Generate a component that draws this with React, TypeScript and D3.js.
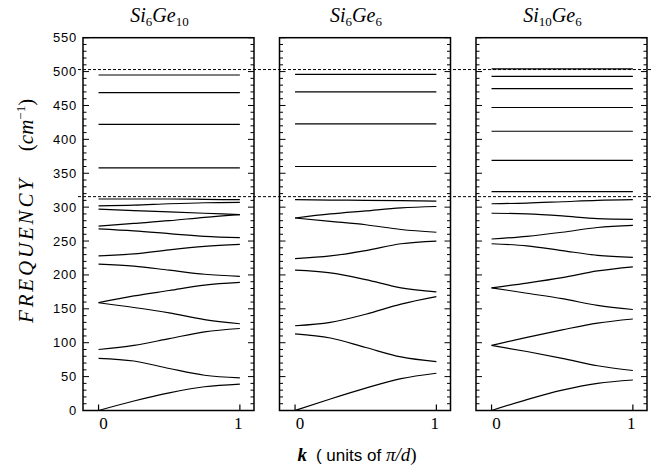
import React from "react";
import * as d3 from "d3";

// ---- data ----
const kPoints = [0, 0.25, 0.5, 0.75, 1];

const panelTitles = [
  { base1: "Si", sub1: "6", base2: "Ge", sub2: "10" },
  { base1: "Si", sub1: "6", base2: "Ge", sub2: "6" },
  { base1: "Si", sub1: "10", base2: "Ge", sub2: "6" },
];

const si6ge10Bands = [
  [0, 14, 26, 35, 39],
  [77, 73, 62, 52, 48],
  [90, 96, 106, 116, 121],
  [159, 152, 144, 134, 128],
  [159, 169, 177, 185, 189],
  [216, 213, 207, 201, 198],
  [228, 231, 237, 242, 245],
  [268, 265, 261, 257, 255],
  [272, 276, 280, 285, 289],
  [297, 295, 293, 291, 289],
  [302, 303, 305, 306.5, 307],
  [312, 312, 312, 311.5, 311],
  [358, 358, 358, 358, 358],
  [422, 422, 422, 422, 422],
  [469, 469, 469, 469, 469],
  [495, 495, 495, 495, 495],
];

const si6ge6Bands = [
  [0, 17, 33, 47, 55],
  [113, 107, 93, 79, 72],
  [125, 130, 142, 157, 168],
  [207, 203, 193, 181, 175],
  [224, 228, 236, 246, 250],
  [284, 279, 274, 267, 263],
  [284, 290, 294.5, 299, 301],
  [311, 310.5, 310, 309.5, 309],
  [360, 360, 360, 360, 360],
  [423, 423, 423, 423, 423],
  [470, 470, 470, 470, 470],
  [496, 496, 496, 496, 496],
];

const si10ge6Bands = [
  [0, 16, 30, 40, 45],
  [96, 87, 77, 66, 59],
  [96, 108, 119, 129, 135],
  [181, 173, 165, 155, 149],
  [181, 188, 196, 206, 212],
  [246, 243, 236, 229, 226],
  [253, 257, 263, 270, 273],
  [291, 290, 287, 283, 282],
  [305, 306, 308, 310, 311],
  [323, 323, 323, 323, 323],
  [369, 369, 369, 369, 369],
  [412, 412, 412, 412, 412],
  [447, 447, 447, 447, 447],
  [475, 475, 475, 475, 475],
  [493, 493, 493, 493, 493],
  [504, 504, 504, 504, 504],
];

const panelBands = [si6ge10Bands, si6ge6Bands, si10ge6Bands];

const dashedLevels = [503, 315.5];

const yTickLabels = [0, 50, 100, 150, 200, 250, 300, 350, 400, 450, 500, 550];
const yMinorTicks = d3.range(0, 551, 10);
const xTickLabels = ["0", "1"];
const xTickValues = [0, 1];

// ---- layout ----
const W = 652;
const H = 473;
const panelLefts = [83, 279.5, 476];
const panelWidth = 171;
const yTop = 37.7;
const yBottom = 410.5;

const y = d3.scaleLinear().domain([0, 550]).range([yBottom, yTop]);

const serif = "'Liberation Serif', 'DejaVu Serif', serif";
const sans = "'Liberation Sans', Arial, sans-serif";

export default function App() {
  const panels = panelLefts.map((left, pi) => {
    const x = d3.scaleLinear().domain([-0.11, 1.1]).range([left, left + panelWidth]);
    const line = d3
      .line<number>()
      .x((_, i) => x(kPoints[i]))
      .y((v) => y(v))
      .curve(d3.curveMonotoneX);
    const t = panelTitles[pi];
    return (
      <g key={pi}>
        <rect
          x={left}
          y={yTop}
          width={panelWidth}
          height={yBottom - yTop}
          fill="none"
          stroke="#000"
          strokeWidth={1.5}
        />
        {yMinorTicks.map((v) => {
          const len = v % 50 === 0 ? 6 : 3.5;
          return (
            <g key={v}>
              <line x1={left} x2={left + len} y1={y(v)} y2={y(v)} stroke="#000" strokeWidth={1} />
              <line
                x1={left + panelWidth}
                x2={left + panelWidth - len}
                y1={y(v)}
                y2={y(v)}
                stroke="#000"
                strokeWidth={1}
              />
            </g>
          );
        })}
        {xTickValues.map((k, i) => (
          <g key={k}>
            <line x1={x(k)} x2={x(k)} y1={yBottom} y2={yBottom - 6} stroke="#000" strokeWidth={1.2} />
            <text
              x={x(k) + (i === 0 ? 5 : -1.5)}
              y={429}
              textAnchor="middle"
              fontFamily={serif}
              fontSize={17}
            >
              {xTickLabels[i]}
            </text>
          </g>
        ))}
        {panelBands[pi].map((b, bi) => (
          <path key={bi} d={line(b) || ""} fill="none" stroke="#000" strokeWidth={1.2} />
        ))}
        <text
          x={left + panelWidth / 2 - 9}
          y={22}
          textAnchor="middle"
          fontFamily={serif}
          fontStyle="italic"
          fontSize={20}
        >
          {t.base1}
          <tspan fontSize={13} fontStyle="normal" dy={3.5}>{t.sub1}</tspan>
          <tspan dy={-3.5}>{t.base2}</tspan>
          <tspan fontSize={13} fontStyle="normal" dy={3.5}>{t.sub2}</tspan>
        </text>
      </g>
    );
  });

  return (
    <svg
      width={W}
      height={H}
      viewBox={`0 0 ${W} ${H}`}
      style={{ position: "absolute", left: 0, top: 0, display: "block", background: "#fff" }}
    >
      <rect x={0} y={0} width={W} height={H} fill="#fff" />
      {panels}
      {dashedLevels.map((v) => (
        <line
          key={v}
          x1={78}
          x2={W}
          y1={y(v)}
          y2={y(v)}
          stroke="#000"
          strokeWidth={1}
          strokeDasharray="3,2"
        />
      ))}
      {yTickLabels.map((v) => (
        <text
          key={v}
          x={77}
          y={y(v) + 4.5}
          textAnchor="end"
          fontFamily={sans}
          fontSize={13}
          letterSpacing={0.8}
        >
          {v}
        </text>
      ))}
      <text
        transform={`translate(33, 251) rotate(-90)`}
        textAnchor="middle"
        fontFamily={serif}
        fontStyle="italic"
        fontSize={21}
        textLength={144}
        lengthAdjust="spacing"
      >
        FREQUENCY
      </text>
      <text
        transform={`translate(33, 125) rotate(-90)`}
        textAnchor="middle"
        fontFamily={serif}
        fontSize={21}
      >
        (<tspan fontStyle="italic">cm</tspan>
        <tspan fontSize={13} dy={-8}>−1</tspan>
        <tspan dy={8}>)</tspan>
      </text>
      <text x={357} y={461} textAnchor="middle" fontSize={19}>
        <tspan fontFamily={serif} fontStyle="italic" fontWeight="bold">k</tspan>
        <tspan fontFamily={sans} fontSize={17} dx={9}>( units of </tspan>
        <tspan fontFamily={serif} fontStyle="italic">π/d</tspan>
        <tspan fontFamily={serif}>)</tspan>
      </text>
    </svg>
  );
}
